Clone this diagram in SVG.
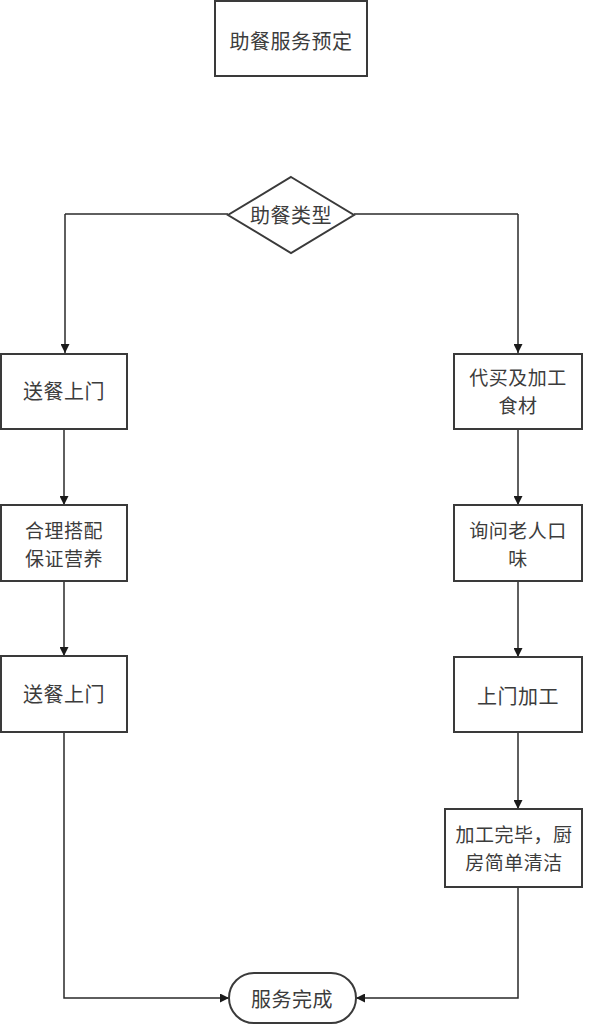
<svg xmlns="http://www.w3.org/2000/svg" width="592" height="1024" viewBox="0 0 592 1024">
<defs>
<marker id="ah" viewBox="0 0 10 10" refX="10" refY="5" markerWidth="9" markerHeight="9" markerUnits="userSpaceOnUse" orient="auto">
<path d="M0,0 L10,5 L0,10 z" fill="#1a1a1a"/>
</marker>
<style>
.n{fill:#fff;stroke:#3a3a3a;stroke-width:2}
.t{font-family:"Noto Sans CJK SC","Noto Sans CJK JP",sans-serif;font-size:20px;letter-spacing:0.5px;fill:#3c3c3c;text-anchor:middle;dominant-baseline:central}
.s{font-size:19px}
.c{fill:none;stroke:#2a2a2a;stroke-width:1.5;marker-end:url(#ah)}
.l{fill:none;stroke:#2a2a2a;stroke-width:1.5}
</style>
</defs>
<rect width="592" height="1024" fill="#fff"/>
<g id="connectors">
<path class="l" d="M228,214 H65"/>
<path class="c" d="M65,214 V353"/>
<path class="l" d="M354,214 H518"/>
<path class="c" d="M518,214 V353"/>
<path class="c" d="M64,429 V505"/>
<path class="c" d="M64,581 V656"/>
<path class="c" d="M518,429 V505"/>
<path class="c" d="M518,581 V657"/>
<path class="c" d="M518,732 V809"/>
<path class="c" d="M64,732 V998 H229"/>
<path class="c" d="M518,887 V998 H356"/>
</g>
<g id="start"><rect class="n" x="215" y="1" width="152" height="75"/><text class="t" x="291" y="40">助餐服务预定</text></g>
<g id="type"><polygon class="n" points="291,177 354,215 291,253 228,215"/><text class="t" x="291" y="214">助餐类型</text></g>
<g id="l1"><rect class="n" x="1" y="354" width="126" height="75"/><text class="t" x="64" y="390">送餐上门</text></g>
<g id="l2"><rect class="n" x="1" y="505" width="126" height="76"/><text class="t s" x="64" y="529">合理搭配</text><text class="t s" x="64" y="557">保证营养</text></g>
<g id="l3"><rect class="n" x="1" y="656" width="126" height="76"/><text class="t" x="64" y="693">送餐上门</text></g>
<g id="r1"><rect class="n" x="454" y="354" width="128" height="75"/><text class="t s" x="518" y="376">代买及加工</text><text class="t s" x="518" y="404">食材</text></g>
<g id="r2"><rect class="n" x="454" y="505" width="128" height="76"/><text class="t s" x="518" y="529">询问老人口</text><text class="t s" x="518" y="557">味</text></g>
<g id="r3"><rect class="n" x="454" y="657" width="128" height="75"/><text class="t" x="518" y="695">上门加工</text></g>
<g id="r4"><rect class="n" x="445" y="809" width="137" height="78"/><text class="t s" x="514" y="833">加工完毕，厨</text><text class="t s" x="514" y="861">房简单清洁</text></g>
<g id="end"><rect class="n" x="229" y="973" width="127" height="50" rx="25" ry="25"/><text class="t" x="292" y="998">服务完成</text></g>
</svg>
